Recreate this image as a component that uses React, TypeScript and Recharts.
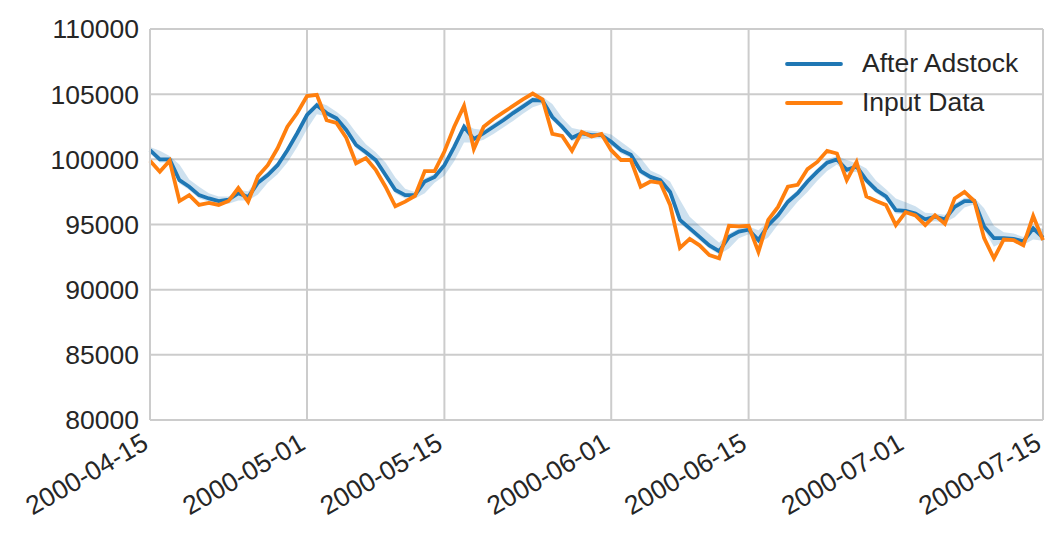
import React from 'react';
import { ComposedChart, Line, Area, XAxis, YAxis, CartesianGrid } from 'recharts';

// daily values from 2000-04-15 to 2000-07-15
const inputData = [
  99900, 99050, 99900, 96800, 97250, 96500, 96650, 96500, 96800, 97800,
  96750, 98700, 99550, 100850, 102500, 103550, 104850, 104950, 103000, 102800,
  101650, 99700, 100100, 99200, 97900, 96400, 96750, 97200, 99100, 99100,
  100600, 102500, 104100, 100800, 102500, 103100, 103600, 104100, 104600, 105050,
  104600, 101950, 101800, 100650, 102100, 101750, 101950, 100700, 99950, 99950,
  97900, 98300, 98200, 96500, 93200, 93900, 93400, 92650, 92400, 94900,
  94850, 94900, 92900, 95350, 96350, 97900, 98050, 99250, 99800, 100650,
  100450, 98400, 99800, 97150, 96800, 96500, 94950, 95950, 95700, 94950,
  95700, 95050, 97000, 97500, 96800, 93950, 92400, 93850, 93800, 93400,
  95650, 93800,
];

const afterAdstock = [
  100700, 100000, 100000, 98400, 97900, 97250, 97000, 96800, 96900, 97400,
  97100, 98200, 98800, 99550, 100700, 102000, 103400, 104150, 103550, 103150,
  102250, 101100, 100550, 99950, 98800, 97650, 97250, 97250, 98300, 98650,
  99550, 100950, 102500, 101550, 102000, 102500, 103000, 103550, 104050, 104550,
  104500, 103250, 102500, 101650, 102000, 101850, 101850, 101350, 100700, 100350,
  99100, 98650, 98400, 97500, 95350, 94700, 94050, 93400, 92950, 94050,
  94450, 94600, 93800, 94950, 95700, 96750, 97400, 98300, 99050, 99750,
  100000, 99200, 99450, 98400, 97650, 97150, 96100, 96050, 95850, 95400,
  95600, 95400, 96350, 96800, 96800, 94850, 93950, 93950, 93900, 93700,
  94700, 94000,
];

const bandLow = [
  100450, 99750, 99750, 98150, 97650, 97000, 96750, 96550, 96600, 96850,
  96850, 97300, 98200, 98850, 99750, 100950, 102300, 103450, 103300, 102900,
  102000, 100850, 100300, 99700, 98550, 97400, 97000, 97000, 97400, 98200,
  98750, 99850, 101300, 101300, 101500, 101950, 102450, 102950, 103500, 104000,
  104250, 103000, 102250, 101400, 101550, 101600, 101600, 101100, 100450, 100100,
  98850, 98400, 98150, 97250, 95100, 94450, 93800, 93150, 92700, 93150,
  93950, 94250, 93550, 94000, 95000, 95850, 96750, 97500, 98350, 99100,
  99600, 98950, 99050, 98150, 97400, 96900, 95850, 95800, 95600, 95150,
  95250, 95150, 95550, 96300, 96550, 94600, 93300, 93700, 93650, 93450,
  93850, 93750,
];

const bandHigh = [
  100950, 100650, 100250, 99600, 98450, 97900, 97400, 97150, 97150, 97650,
  97550, 98450, 99050, 99800, 100950, 102250, 103650, 104400, 104150, 103650,
  103050, 102050, 101150, 100550, 99750, 98600, 97750, 97500, 98550, 98900,
  99800, 101200, 102750, 102350, 102250, 102750, 103250, 103800, 104300, 104800,
  104800, 104250, 103200, 102400, 102250, 102200, 102100, 101900, 101350, 100800,
  100100, 99150, 98800, 98300, 96900, 95600, 94900, 94250, 93600, 94300,
  94700, 94850, 94550, 95200, 95950, 97000, 97650, 98550, 99300, 100000,
  100250, 99950, 99700, 99300, 98350, 97700, 97000, 96700, 96400, 95900,
  95850, 95750, 96600, 97050, 97050, 96250, 94900, 94400, 94300, 94050,
  94950, 94650,
];

const tickDays = [0, 16, 30, 47, 61, 77, 91];
const tickLabels = ['2000-04-15', '2000-05-01', '2000-05-15', '2000-06-01', '2000-06-15', '2000-07-01', '2000-07-15'];
const yTicks = [80000, 85000, 90000, 95000, 100000, 105000, 110000];
const seriesNames = ['After Adstock', 'Input Data'];

const BLUE = '#1f77b4';
const ORANGE = '#ff7f0e';
const GRID = '#cccccc';
const TEXT = '#262626';
const FONT = '"Liberation Sans", Arial, sans-serif';
const FONT_SIZE = 26.5;

const rows = inputData.map((v, i) => ({
  day: i,
  input: v,
  adstock: afterAdstock[i],
  band: [bandLow[i], bandHigh[i]],
}));

function DateTick({ x, y, payload }: any) {
  const label = tickLabels[tickDays.indexOf(payload.value)] ?? '';
  return (
    <text
      x={x}
      y={y + 20}
      transform={`rotate(-30, ${x}, ${y + 20})`}
      textAnchor="end"
      fill={TEXT}
      fontSize={FONT_SIZE}
      fontFamily={FONT}
    >
      {label}
    </text>
  );
}

function LegendBox() {
  const colors = [BLUE, ORANGE];
  return (
    <div style={{ position: 'absolute', left: 785, top: 44, fontFamily: FONT, fontSize: FONT_SIZE, color: TEXT }}>
      {seriesNames.map((name, i) => (
        <div key={name} style={{ display: 'flex', alignItems: 'center', height: 39 }}>
          <svg width={58} height={6} style={{ marginRight: 19 }}>
            <line x1={2} y1={3} x2={56} y2={3} stroke={colors[i]} strokeWidth={3.8} strokeLinecap="round" />
          </svg>
          <span>{name}</span>
        </div>
      ))}
    </div>
  );
}

export default function App() {
  return (
    <div style={{ position: 'absolute', left: 0, top: 0, width: 1061, height: 539, background: '#fff' }}>
      <ComposedChart width={1061} height={539} data={rows} margin={{ top: 29, right: 18, bottom: 9, left: 10 }}>
        <CartesianGrid stroke={GRID} strokeWidth={2} />
        <XAxis
          dataKey="day"
          type="number"
          domain={[0, 91]}
          ticks={tickDays}
          tick={<DateTick />}
          tickLine={false}
          axisLine={{ stroke: GRID, strokeWidth: 2 }}
          height={110}
          interval={0}
        />
        <YAxis
          domain={[80000, 110000]}
          ticks={yTicks}
          width={140}
          tickLine={false}
          axisLine={{ stroke: GRID, strokeWidth: 2 }}
          tickMargin={5}
          tick={{ fill: TEXT, fontSize: FONT_SIZE, fontFamily: FONT }}
          interval={0}
        />
        <Area
          dataKey="band"
          stroke="none"
          fill={BLUE}
          fillOpacity={0.22}
          isAnimationActive={false}
          type="linear"
        />
        <Line dataKey="adstock" name={seriesNames[0]} stroke={BLUE} strokeWidth={3.8} dot={false} type="linear" isAnimationActive={false} />
        <Line dataKey="input" name={seriesNames[1]} stroke={ORANGE} strokeWidth={3.8} dot={false} type="linear" isAnimationActive={false} />
      </ComposedChart>
      <LegendBox />
    </div>
  );
}
